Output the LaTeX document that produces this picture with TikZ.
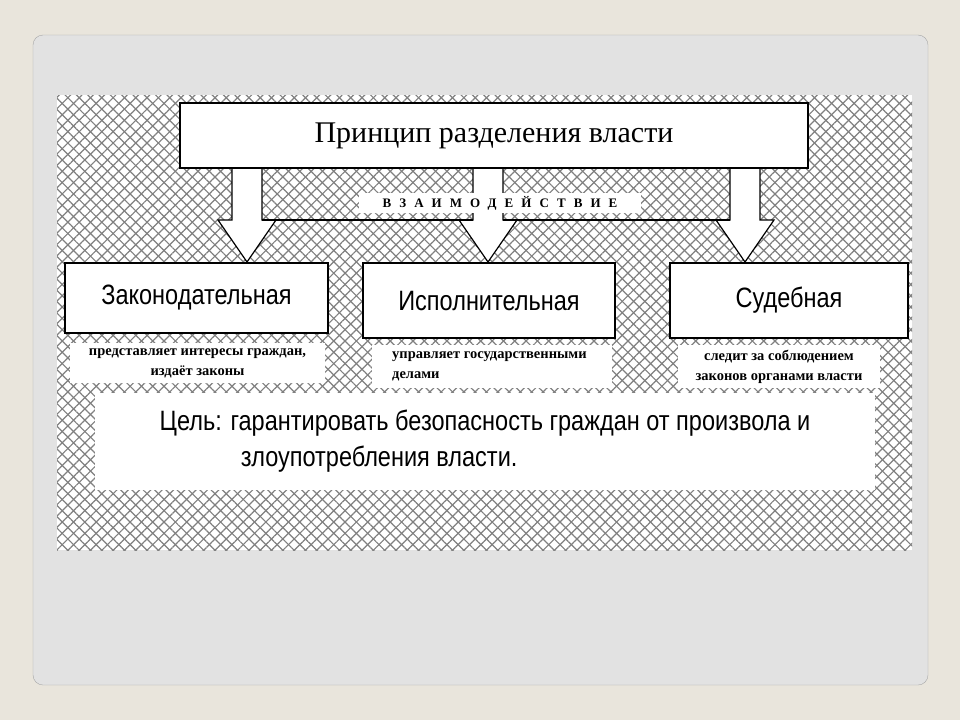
\documentclass[tikz,border=0pt]{standalone}
\usepackage{fontspec}
\setmainfont{Liberation Serif}
\newfontfamily\narrow[FakeStretch=0.84]{Liberation Sans}
\usetikzlibrary{patterns.meta}
\definecolor{pagebg}{HTML}{E9E5DC}
\definecolor{cardbg}{HTML}{E2E2E2}
\tikzset{
  box/.style={draw=black, line width=1.6pt, fill=white, font=\narrow\fontsize{28}{32}\selectfont},
  note/.style={fill=white, inner sep=0pt, font=\fontsize{14.5}{20}\selectfont\bfseries},
  blockarrow/.style={draw=black, line width=1.2pt, fill=white, line join=miter},
}
\begin{document}
\begin{tikzpicture}[x=1pt, y=-1pt]
        \useasboundingbox (0,0) rectangle (960,720);
        % page and card
        \fill[pagebg] (0,0) rectangle (960,720);
        \draw[gray!70, fill=cardbg, rounded corners=10pt] (33,35) rectangle (928,685);
        % hatched field
        \fill[white] (57,95) rectangle (912,550);
        \fill[pattern={Lines[angle=45,distance=8pt,line width=1.2pt]}, pattern color=gray] (57,95) rectangle (912,550);
        \fill[pattern={Lines[angle=-45,distance=8pt,line width=1.2pt]}, pattern color=gray] (57,95) rectangle (912,550);
        % block arrows
        \foreach \cx in {247,488,745} {
          \draw[blockarrow] (\cx-15,168) -- (\cx-15,220) -- (\cx-29,220) -- (\cx,262)
            -- (\cx+29,220) -- (\cx+15,220) -- (\cx+15,168);
        }
        % interaction line
        \draw[line width=2.4pt] (262,220) -- (473,220);
        \draw[line width=2.4pt] (503,220) -- (730,220);
        \node[note, minimum width=282pt, minimum height=20pt, font=\fontsize{13}{14}\selectfont\bfseries\addfontfeature{LetterSpace=62}] (inter) at (500,203)
          {ВЗАИМОДЕЙСТВИЕ};
        % top box
        \node[box, minimum width=628pt, minimum height=65pt, font=\fontsize{30}{34}\selectfont] (top) at (494,135.5)
          {Принцип разделения власти};
        % branches
        \node[box, minimum width=263pt, minimum height=70pt] (zak) at (196.5,298) {Законодательная};
        \node[box, minimum width=252pt, minimum height=75pt] (isp) at (489,300.5) {Исполнительная};
        \node[box, minimum width=238pt, minimum height=75pt] (sud) at (789,300.5) {Судебная};
        % descriptions
        \node[note, minimum width=255pt, minimum height=40pt, align=center] (zakd) at (197.5,363)
          {представляет интересы граждан,\\ издаёт законы};
        \node[note, minimum width=240pt, minimum height=43pt, align=left] (ispd) at (492,366.5)
          {управляет государственными\\делами\hspace*{10.5em}};
        \node[note, minimum width=202pt, minimum height=43pt, align=center] (sudd) at (779,366.5)
          {следит за соблюдением\\ законов органами власти};
        % goal
        \node[note, minimum width=780pt, minimum height=97pt, align=left, font=\narrow\fontsize{28}{36}\selectfont] (goal) at (485,441.5)
          {Цель: гарантировать безопасность граждан от произвола и\\
           \hspace*{2.9em}злоупотребления власти.};
    \end{tikzpicture}
\end{document}
